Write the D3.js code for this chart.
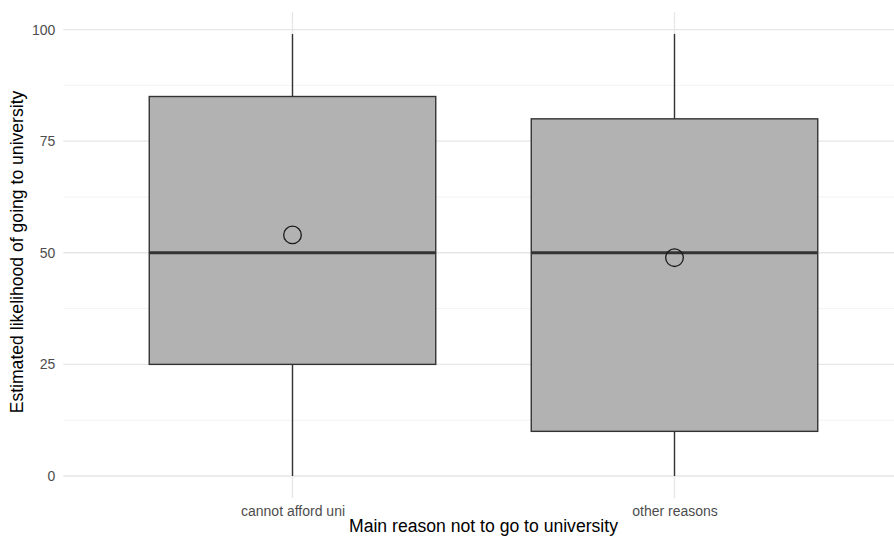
<!DOCTYPE html>
<html>
<head>
<meta charset="utf-8">
<script src="https://cdn.jsdelivr.net/npm/d3@7"></script>
<style>
  html, body { margin: 0; padding: 0; background: #fff; }
  svg { display: block; font-family: "Liberation Sans", Arial, Helvetica, sans-serif; }
</style>
</head>
<body>
<svg id="chart" width="894" height="542"></svg>
<script>
// Groups and their box-plot summaries
const categories = ["cannot afford uni", "other reasons"];
const whiskerLow = [0, 0];
const q1 = [25, 10];
const medians = [50, 50];
const q3 = [85, 80];
const whiskerHigh = [99, 99];
const means = [54, 48.9];

const yTicks = [0, 25, 50, 75, 100];
const yMinor = [12.5, 37.5, 62.5, 87.5];

const xTitle = "Main reason not to go to university";
const yTitle = "Estimated likelihood of going to university";

const svg = d3.select("#chart");

// Panel geometry
const panel = { left: 63.3, right: 903.7, top: 11.9, bottom: 498.1 };

const y = d3.scaleLinear()
  .domain([-4.95, 103.95])
  .range([panel.bottom, panel.top]);

// Discrete positions 1..n with 0.6 expansion on each side
const x = d3.scaleLinear()
  .domain([0.4, categories.length + 0.6])
  .range([panel.left, panel.right]);
const boxHalf = 0.375;

const grid = svg.append("g");
// minor horizontal grid
grid.selectAll("line.minor").data(yMinor).join("line")
  .attr("x1", panel.left).attr("x2", panel.right)
  .attr("y1", d => y(d)).attr("y2", d => y(d))
  .attr("stroke", "#ebebeb").attr("stroke-width", 0.6);
// major horizontal grid
grid.selectAll("line.major").data(yTicks).join("line")
  .attr("x1", panel.left).attr("x2", panel.right)
  .attr("y1", d => y(d)).attr("y2", d => y(d))
  .attr("stroke", "#e6e6e6").attr("stroke-width", 1.3);
// vertical grid at categories
grid.selectAll("line.vx").data(categories).join("line")
  .attr("x1", (d, i) => x(i + 1)).attr("x2", (d, i) => x(i + 1))
  .attr("y1", panel.top).attr("y2", panel.bottom)
  .attr("stroke", "#e6e6e6").attr("stroke-width", 1.3);

// Y axis labels
const yAxis = d3.axisLeft(y).tickValues(yTicks).tickSize(0).tickPadding(8);
const gy = svg.append("g").attr("transform", `translate(${panel.left},0)`).call(yAxis);
gy.select(".domain").remove();
gy.selectAll("text").attr("fill", "#4d4d4d").style("font-size", "14px")
  .style("font-family", "Liberation Sans, Arial, sans-serif");

// X axis labels
const xAxis = d3.axisBottom(x).tickValues(categories.map((d, i) => i + 1))
  .tickFormat((d) => categories[d - 1]).tickSize(0).tickPadding(8);
const gx = svg.append("g").attr("transform", `translate(0,${panel.bottom})`).call(xAxis);
gx.select(".domain").remove();
gx.selectAll("text").attr("fill", "#4d4d4d").style("font-size", "14px")
  .style("font-family", "Liberation Sans, Arial, sans-serif");

// Boxes
const boxes = svg.append("g").selectAll("g").data(categories).join("g");
boxes.append("line")
  .attr("x1", (d, i) => x(i + 1)).attr("x2", (d, i) => x(i + 1))
  .attr("y1", (d, i) => y(q3[i])).attr("y2", (d, i) => y(whiskerHigh[i]))
  .attr("stroke", "#333333").attr("stroke-width", 1.4);
boxes.append("line")
  .attr("x1", (d, i) => x(i + 1)).attr("x2", (d, i) => x(i + 1))
  .attr("y1", (d, i) => y(q1[i])).attr("y2", (d, i) => y(whiskerLow[i]))
  .attr("stroke", "#333333").attr("stroke-width", 1.4);
boxes.append("rect")
  .attr("x", (d, i) => x(i + 1 - boxHalf))
  .attr("width", (d, i) => x(i + 1 + boxHalf) - x(i + 1 - boxHalf))
  .attr("y", (d, i) => y(q3[i]))
  .attr("height", (d, i) => y(q1[i]) - y(q3[i]))
  .attr("fill", "#b2b2b2").attr("stroke", "#333333").attr("stroke-width", 1.4);
boxes.append("line")
  .attr("x1", (d, i) => x(i + 1 - boxHalf)).attr("x2", (d, i) => x(i + 1 + boxHalf))
  .attr("y1", (d, i) => y(medians[i])).attr("y2", (d, i) => y(medians[i]))
  .attr("stroke", "#333333").attr("stroke-width", 3);
boxes.append("circle")
  .attr("cx", (d, i) => x(i + 1)).attr("cy", (d, i) => y(means[i]))
  .attr("r", 8.8)
  .attr("fill", "none").attr("stroke", "#1a1a1a").attr("stroke-width", 1.3);

// Axis titles
svg.append("text")
  .attr("x", (panel.left + panel.right) / 2).attr("y", 532)
  .attr("text-anchor", "middle").attr("fill", "#000")
  .style("font-size", "17.6px").text(xTitle);
svg.append("text")
  .attr("transform", `translate(23,252) rotate(-90)`)
  .attr("text-anchor", "middle").attr("fill", "#000")
  .style("font-size", "17.6px").text(yTitle);
</script>
</body>
</html>
